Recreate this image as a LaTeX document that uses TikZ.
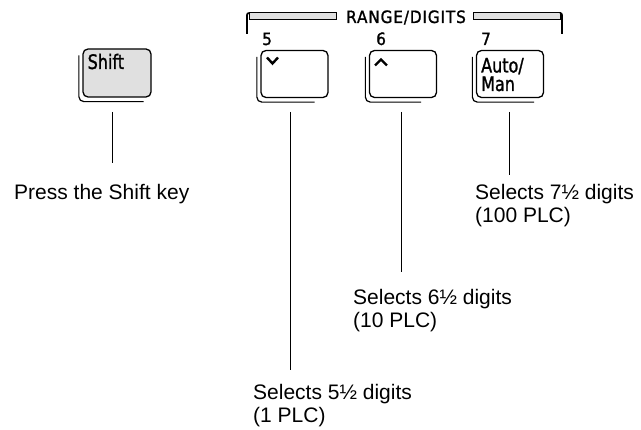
\documentclass[tikz,border=0pt]{standalone}
\usepackage{fontspec}
\setmainfont{Liberation Sans}
\newfontfamily\keyfont[FakeStretch=0.8,FakeBold=1.3]{DejaVu Sans}
\newfontfamily\rangefont[FakeStretch=0.9,FakeBold=1.2,LetterSpace=5]{DejaVu Sans}
\begin{document}
\begin{tikzpicture}[x=1pt,y=-1pt,
  keyface/.style={draw, line width=1.3pt, rounded corners=5pt, minimum width=67pt, minimum height=47pt, inner sep=0pt},
  keybase/.style={draw, line width=1.2pt, rounded corners=5pt},
  conn/.style={draw, line width=0.9pt},
  lbl/.style={inner sep=0pt, anchor=base west, font=\fontsize{21}{23}\selectfont},
  keytxt/.style={inner sep=0pt, anchor=base west, font=\keyfont\fontsize{20}{21}\selectfont},
  numtxt/.style={inner sep=0pt, anchor=base west, font=\rangefont\fontsize{17}{18}\selectfont},
  stip/.style={fill=black!12}
]
\useasboundingbox (0,0) rectangle (641,430);

% bracket RANGE/DIGITS
\draw[line width=1pt, stip] (249,13) rectangle (336,19.5);
\draw[line width=1pt, stip] (473,13) rectangle (560,19.5);
\draw[line width=1.7pt, rounded corners=2pt] (249,13) -- (247,13) -- (247,34);
\draw[line width=1.7pt, rounded corners=2pt] (560,13) -- (562,13) -- (562,34);
\node[numtxt, anchor=base] (range) at (406,23) {RANGE/DIGITS};

% numbers
\node[numtxt] (n5) at (262,45) {5};
\node[numtxt] (n6) at (376,45) {6};
\node[numtxt] (n7) at (481,45) {7};

% keys
\node[keyface, stip, minimum width=68pt, minimum height=48pt] (ks) at (117,73) {};
\node[keyface] (k5) at (294.5,74) {};
\node[keyface] (k6) at (403,74) {};
\node[keyface] (k7) at (510,74) {};
\foreach \k/\d in {ks/8, k5/14, k6/16, k7/10}{
  \draw[keybase] ([xshift=-3.5pt,yshift=-7pt]\k.north west) |- ([xshift=-\d pt,yshift=-4pt]\k.south east);
}

% key legends
\node[keytxt] (tshift) at (87.5,69) {Shift};
\draw[line width=2.4pt] (267,57.5) -- (272.5,63.5) -- (278,57.5);
\draw[line width=2.4pt] (375,65.5) -- (381,59.5) -- (387,65.5);
\node[keytxt] (tauto) at (481,72.5) {Auto/};
\node[keytxt] (tman) at (481,91) {Man};

% labels
\node[lbl] (ls) at (14,200) {Press the Shift key};
\node[lbl] (l7) at (475,200) {Selects 7½ digits};
\node[lbl] (l7b) at (475,223) {(100 PLC)};
\node[lbl] (l6) at (353,305) {Selects 6½ digits};
\node[lbl] (l6b) at (353,328) {(10 PLC)};
\node[lbl] (l5) at (253,400) {Selects 5½ digits};
\node[lbl] (l5b) at (253,423) {(1 PLC)};

% connectors
\coordinate (cs1) at (112,112); \coordinate (cs2) at (112,163);
\coordinate (c51) at (290,112); \coordinate (c52) at (290,370);
\coordinate (c61) at (401,112); \coordinate (c62) at (401,272);
\coordinate (c71) at (509,112); \coordinate (c72) at (509,175);
\draw[conn] (cs1) -- (cs2);
\draw[conn] (c51) -- (c52);
\draw[conn] (c61) -- (c62);
\draw[conn] (c71) -- (c72);
\end{tikzpicture}
\end{document}
